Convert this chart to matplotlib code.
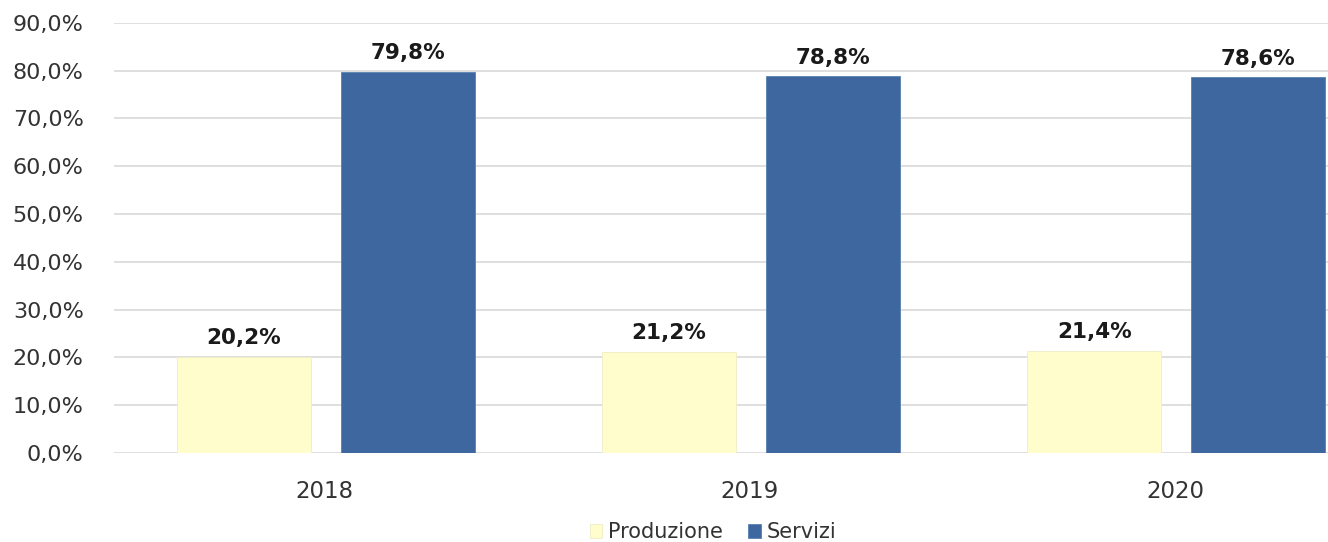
import numpy as np
import matplotlib.pyplot as plt
from matplotlib.ticker import FuncFormatter

anni = ["2018", "2019", "2020"]
produzione = [20.2, 21.2, 21.4]
servizi = [79.8, 78.8, 78.6]

col_prod = "#FFFDCC"
col_serv = "#3D679E"

fig = plt.figure(figsize=(13.28, 5.42), dpi=100)
ax = fig.add_axes([0.086, 0.164, 0.914, 0.794])

x = np.arange(len(anni))
w = 0.315
b1 = ax.bar(x - 0.19, produzione, w, color=col_prod, edgecolor="#EFEDC5",
            linewidth=0.6, label="Produzione", zorder=3)
b2 = ax.bar(x + 0.195, servizi, w, color=col_serv, edgecolor="#5A80B0",
            linewidth=0.6, label="Servizi", zorder=3)

# etichette con i valori sopra le barre
for bars, vals in [(b1, produzione), (b2, servizi)]:
    for rect, v in zip(bars, vals):
        ax.annotate(f"{v:.1f}%".replace(".", ","),
                    (rect.get_x() + rect.get_width() / 2, v),
                    xytext=(0, 6), textcoords="offset points",
                    ha="center", va="bottom", fontsize=15.5,
                    fontweight="bold", color="#1a1a1a")

ax.set_ylim(0, 90)
ax.set_xlim(-0.495, 2.36)
ax.set_yticks(np.arange(0, 91, 10))
ax.yaxis.set_major_formatter(FuncFormatter(lambda v, p: f"{v:.1f}%".replace(".", ",")))
ax.set_xticks(x)
ax.set_xticklabels(anni)
ax.tick_params(axis="both", length=0, labelcolor="#333333")
ax.tick_params(axis="x", pad=19, labelsize=16.5)
ax.tick_params(axis="y", pad=22, labelsize=16)
ax.grid(axis="y", color="#D9D9D9", linewidth=1.2, zorder=0)
for s in ax.spines.values():
    s.set_visible(False)

fig.legend(handles=[b1, b2], loc="center", bbox_to_anchor=(0.537, 0.018),
           ncol=2, frameon=False, fontsize=15, handlelength=0.6,
           handleheight=0.6, handletextpad=0.3, columnspacing=1.2,
           labelcolor="#333333")

fig.savefig("out.png", dpi=100)
